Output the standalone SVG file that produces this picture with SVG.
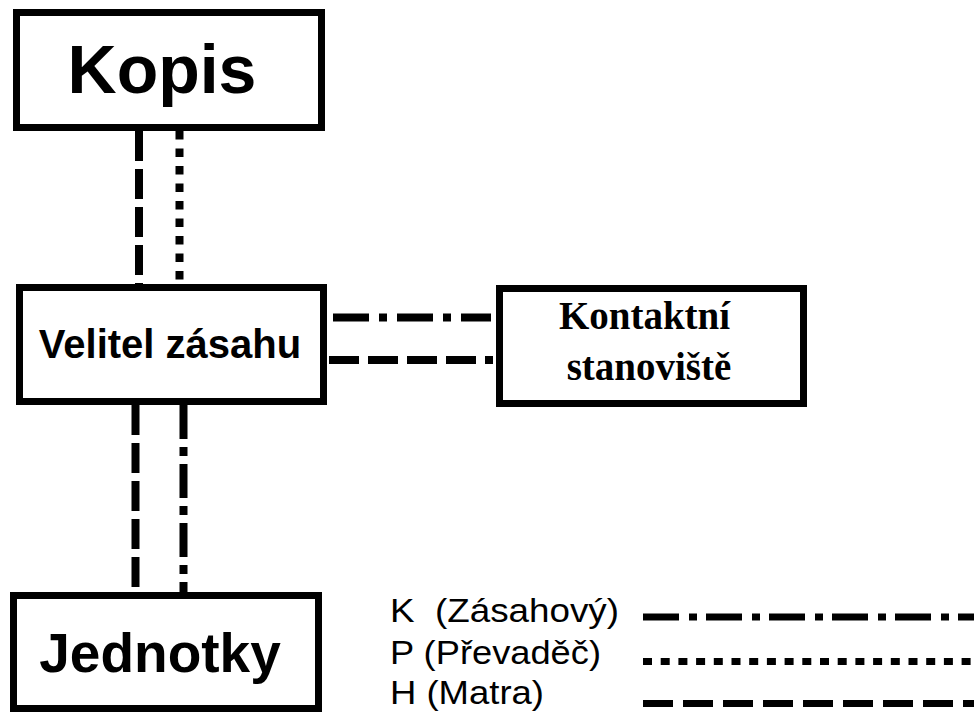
<svg xmlns="http://www.w3.org/2000/svg" width="974" height="713" viewBox="0 0 974 713">
<style>
.box{fill:#fff;stroke:#000;stroke-width:7}
.sans{font-family:"Liberation Sans",Arial,sans-serif;font-weight:bold;fill:#000}
.serif{font-family:"Liberation Serif","Times New Roman",serif;font-weight:bold;fill:#000}
.leg{font-family:"Liberation Sans",Arial,sans-serif;font-weight:normal;fill:#000;font-size:33px;white-space:pre}
.c{fill:none;stroke:#000;stroke-width:8}
.l{fill:none;stroke:#000;stroke-width:7}
.dash{stroke-dasharray:30 8}
.dot{stroke-dasharray:8.5 9}
.dashdot{stroke-dasharray:34 8 9 8}
</style>
<rect width="974" height="713" fill="#fff"/>
<g id="connectors">
<line class="c dash" x1="139" y1="131" x2="139" y2="284"/>
<line class="c dot" x1="179.5" y1="131" x2="179.5" y2="284"/>
<line class="c dash" x1="135.5" y1="405" x2="135.5" y2="592"/>
<line class="c dashdot" x1="183.5" y1="405" x2="183.5" y2="592"/>
<line class="c" style="stroke-dasharray:36 10 8 10" x1="333" y1="317.5" x2="491" y2="317.5"/>
<line class="c" style="stroke-dasharray:30 9" x1="329" y1="360" x2="493" y2="360"/>
</g>
<g id="kopis">
<rect class="box" x="16.5" y="12.5" width="305" height="115"/>
<text class="sans" x="162" y="93" font-size="68" text-anchor="middle">Kopis</text>
</g>
<g id="velitel">
<rect class="box" x="19.5" y="287.5" width="304" height="114"/>
<text class="sans" x="170" y="358" font-size="40" text-anchor="middle">Velitel zásahu</text>
</g>
<g id="kontaktni">
<rect class="box" x="499.5" y="288.5" width="304" height="115"/>
<text class="serif" x="644.5" y="329" font-size="39" text-anchor="middle">Kontaktní</text>
<text class="serif" x="649" y="380" font-size="39" text-anchor="middle">stanoviště</text>
</g>
<g id="jednotky">
<rect class="box" x="13.5" y="595.5" width="305" height="113"/>
<text class="sans" x="160" y="672" font-size="55" text-anchor="middle">Jednotky</text>
</g>
<g id="legend">
<text class="leg" x="390" y="622" textLength="229" lengthAdjust="spacingAndGlyphs">K  (Zásahový)</text>
<text class="leg" x="390" y="664" textLength="211" lengthAdjust="spacingAndGlyphs">P (Převaděč)</text>
<text class="leg" x="390" y="704" textLength="154" lengthAdjust="spacingAndGlyphs">H (Matra)</text>
<line class="l" style="stroke-dasharray:36 10 8 9" x1="643" y1="617" x2="974" y2="617"/>
<line class="l" style="stroke-dasharray:9 8.7" x1="643" y1="661.5" x2="974" y2="661.5"/>
<line class="l" style="stroke-dasharray:30 10" x1="643" y1="703.5" x2="974" y2="703.5"/>
</g>
</svg>
